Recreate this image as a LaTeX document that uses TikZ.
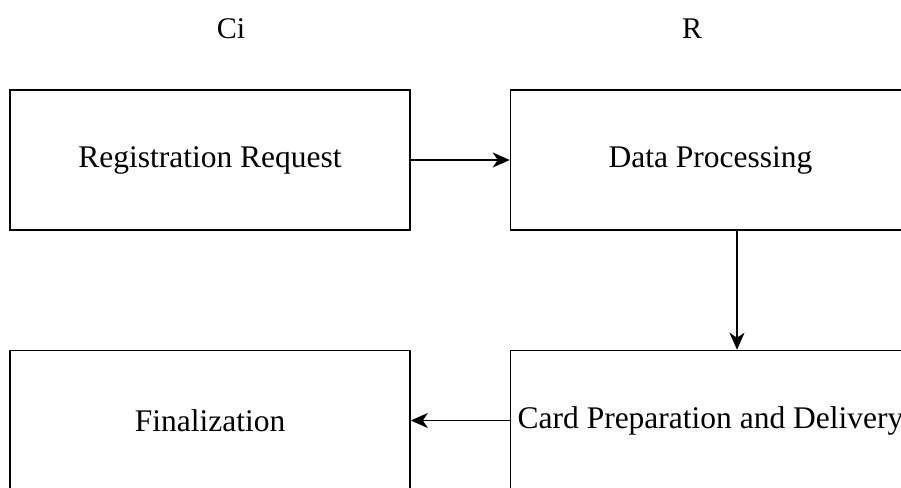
\documentclass[tikz,border=0pt]{standalone}
\usepackage{fontspec}
\setmainfont{Liberation Serif}
\usetikzlibrary{arrows.meta}

\tikzset{
  stagebox/.style={draw=black, line width=1.6pt, fill=white,
    minimum width=400pt, minimum height=140pt, inner sep=0pt,
    font=\fontsize{31.5}{36}\selectfont},
  flow/.style={line width=1.5pt, -{Stealth[length=17pt, width=15pt, inset=5pt]}},
  lane/.style={font=\fontsize{30}{34}\selectfont, anchor=base}
}

\begin{document}
\begin{tikzpicture}[x=1pt, y=-1pt]
  \useasboundingbox (0,0) rectangle (901,487);
  \clip (0,0) rectangle (901,487);

  % lane headings
  \node[lane] (ci) at (231,38) {Ci};
  \node[lane] (r)  at (692,38) {R};

  % process stages
  \node[stagebox] (req)  at (210,160.25) {Registration Request};
  \node[stagebox] (proc) at (710.5,160.25) {Data Processing};
  \node[stagebox] (card) at (710.5,420.5) {Card Preparation and Delivery};
  \node[stagebox] (fin)  at (210,420.5) {Finalization};

  % flow between stages
  \draw[flow] (req.east |- 0,160) -- (proc.west |- 0,160);
  \draw[flow] (proc.south -| 737,0) -- (card.north -| 737,0);
  \draw[flow] (card.west) -- (fin.east);
\end{tikzpicture}
\end{document}
